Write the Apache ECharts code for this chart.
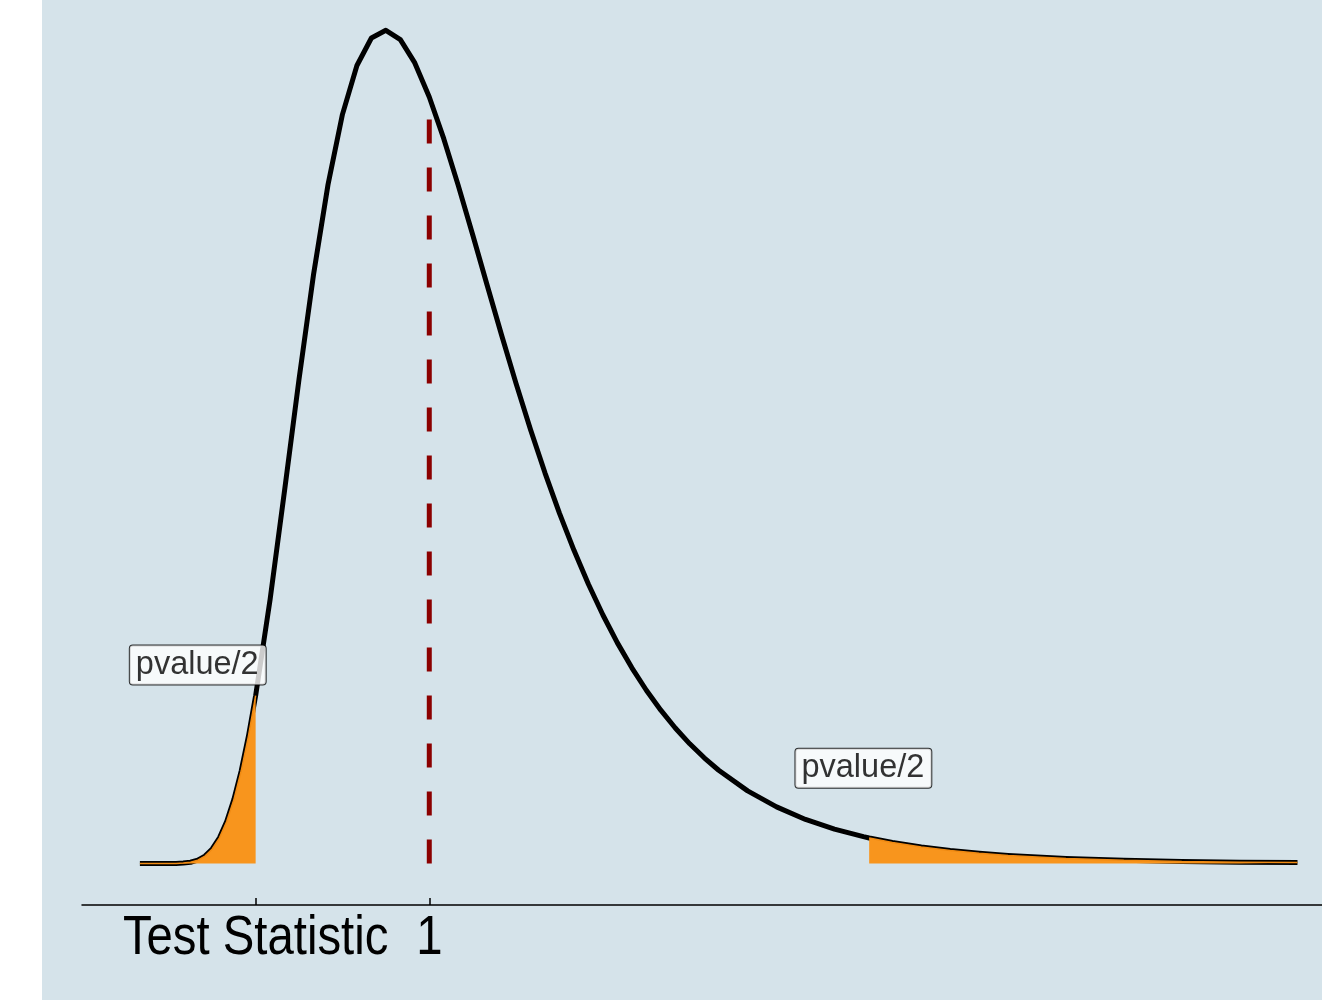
<!DOCTYPE html>
<html>
<head>
<meta charset="utf-8">
<script src="https://cdn.jsdelivr.net/npm/echarts@6/dist/echarts.min.js"></script>
<style>
html,body{margin:0;padding:0;background:#ffffff;}
#chart{width:1322px;height:1000px;}
</style>
</head>
<body>
<div id="chart"></div>
<script>
// ---- data ----
const xValues = [
  0.00, 0.05, 0.10, 0.125, 0.15, 0.175, 0.20, 0.225, 0.25, 0.275, 0.30, 0.325, 0.35, 0.375, 0.40, 0.45,
  0.50, 0.55, 0.60, 0.65, 0.70, 0.75, 0.80, 0.85, 0.90, 0.95,
  1.00, 1.05, 1.10, 1.15, 1.20, 1.25, 1.30, 1.35, 1.40, 1.45,
  1.50, 1.55, 1.60, 1.65, 1.70, 1.75, 1.80, 1.85, 1.90, 1.95,
  2.00, 2.10, 2.20, 2.30, 2.40, 2.50, 2.52, 2.60, 2.70, 2.80,
  2.90, 3.00, 3.20, 3.40, 3.60, 3.80, 4.00
];
const density = [
  0.0000, 0.0000, 0.00002, 0.0001, 0.0005, 0.0016, 0.0042, 0.0093, 0.0183, 0.0324, 0.0529, 0.0808, 0.1165, 0.1602, 0.2115, 0.3328,
  0.4701, 0.6105, 0.7421, 0.8553, 0.9440, 1.0056, 1.0402, 1.0499, 1.0381, 1.0088,
  0.9659, 0.9134, 0.8545, 0.7922, 0.7286, 0.6657, 0.6047, 0.5466, 0.4920, 0.4413,
  0.3946, 0.3519, 0.3131, 0.2780, 0.2466, 0.2183, 0.1932, 0.1707, 0.1508, 0.1332,
  0.1175, 0.0915, 0.0713, 0.0555, 0.0433, 0.0338, 0.0322, 0.0265, 0.0208, 0.0164,
  0.0129, 0.0102, 0.0064, 0.0041, 0.0026, 0.0017, 0.0011
];
const testStatistic = 0.40;   // left shaded tail ends here
const upperCut = 2.52;        // right shaded tail starts here
const referenceValue = 1;     // dashed vertical line
const tickValues = [0.40, 1];
const tickLabels = ['Test Statistic', '1'];
const noteTexts = ['pvalue/2', 'pvalue/2'];
const noteX = [0.20, 2.50];
const noteY = [0.25, 0.12];

// ---- build series data from the arrays ----
const curve = xValues.map((x, i) => [x, density[i]]);
const leftTail = curve.filter(p => p[0] <= testStatistic + 1e-9);
const rightTail = curve.filter(p => p[0] >= upperCut - 1e-9);
const refIndex = xValues.indexOf(referenceValue);
const refLine = [[referenceValue, 0], [referenceValue, density[refIndex]]];
const notes = noteTexts.map((t, i) => ({ name: t, value: [noteX[i], noteY[i]] }));

const ORANGE = '#F8951D';
const BG = '#D5E3EA';

const chart = echarts.init(document.getElementById('chart'), null, { renderer: 'canvas' });
const baseOption = {
  animation: false,
  backgroundColor: '#ffffff',
  graphic: [{
    id: 'panel', type: 'rect', left: 42, top: 0, z: -10, silent: true,
    shape: { width: 1280, height: 1000 },
    style: { fill: BG }
  }],
  grid: { left: 82, right: 0, top: 0, bottom: 95, containLabel: false },
  xAxis: {
    type: 'value', min: -0.2, max: 4.0847,
    axisLine: { show: true, onZero: false, lineStyle: { color: '#000', width: 1.5 } },
    axisTick: { show: true, inside: true, length: 7, customValues: tickValues, lineStyle: { color: '#000', width: 1.5 } },
    axisLabel: { show: false },
    splitLine: { show: false }
  },
  yAxis: {
    type: 'value', min: -0.0523, max: 1.0881, show: false,
    splitLine: { show: false }
  },
  series: [
    {
      type: 'line', data: curve, showSymbol: false, smooth: false, z: 2,
      lineStyle: { color: '#000', width: 5, cap: 'butt', join: 'round' },
      emphasis: { disabled: true }, silent: true
    },
    {
      type: 'line', data: leftTail, showSymbol: false, z: 3,
      lineStyle: { color: '#F08A12', width: 1.5 },
      areaStyle: { color: ORANGE, opacity: 1 },
      emphasis: { disabled: true }, silent: true
    },
    {
      type: 'line', data: rightTail, showSymbol: false, z: 3,
      lineStyle: { color: '#F08A12', width: 1.5 },
      areaStyle: { color: ORANGE, opacity: 1 },
      emphasis: { disabled: true }, silent: true
    },
    {
      type: 'line', data: refLine, showSymbol: false, z: 4,
      lineStyle: { color: '#8B0000', width: 5, type: [24, 24], cap: 'butt' },
      emphasis: { disabled: true }, silent: true
    },
    {
      type: 'scatter', data: notes, symbol: 'circle', symbolSize: 1, z: 5,
      itemStyle: { color: 'rgba(0,0,0,0)' },
      label: {
        show: true, position: 'inside', formatter: '{b}',
        color: '#000', fontSize: 32.5, lineHeight: 32.5,
        fontFamily: 'Liberation Sans, Arial, sans-serif',
        backgroundColor: '#ffffff', borderColor: '#000', borderWidth: 1, borderRadius: 3,
        padding: [5.5, 7, 1, 6]
      },
      emphasis: { disabled: true }, silent: true
    }
  ]
};
chart.setOption(baseOption);

// Tick labels: placed at the tick values through the x axis scale,
// drawn in a horizontally condensed sans face as in the reference.
const axisY = chart.convertToPixel({ yAxisIndex: 0 }, -0.0523);
const tickLabelGraphics = tickValues.map((v, i) => ({
  id: 'tick' + i, type: 'text', silent: true, z: 10,
  x: chart.convertToPixel({ xAxisIndex: 0 }, v),
  y: axisY + 6,
  scaleX: 0.86,
  style: {
    text: tickLabels[i],
    fill: '#000',
    font: '55px "Liberation Sans", Arial, sans-serif',
    lineHeight: 55,
    align: 'center',
    verticalAlign: 'top'
  }
}));
chart.setOption({ graphic: tickLabelGraphics });
</script>
</body>
</html>
